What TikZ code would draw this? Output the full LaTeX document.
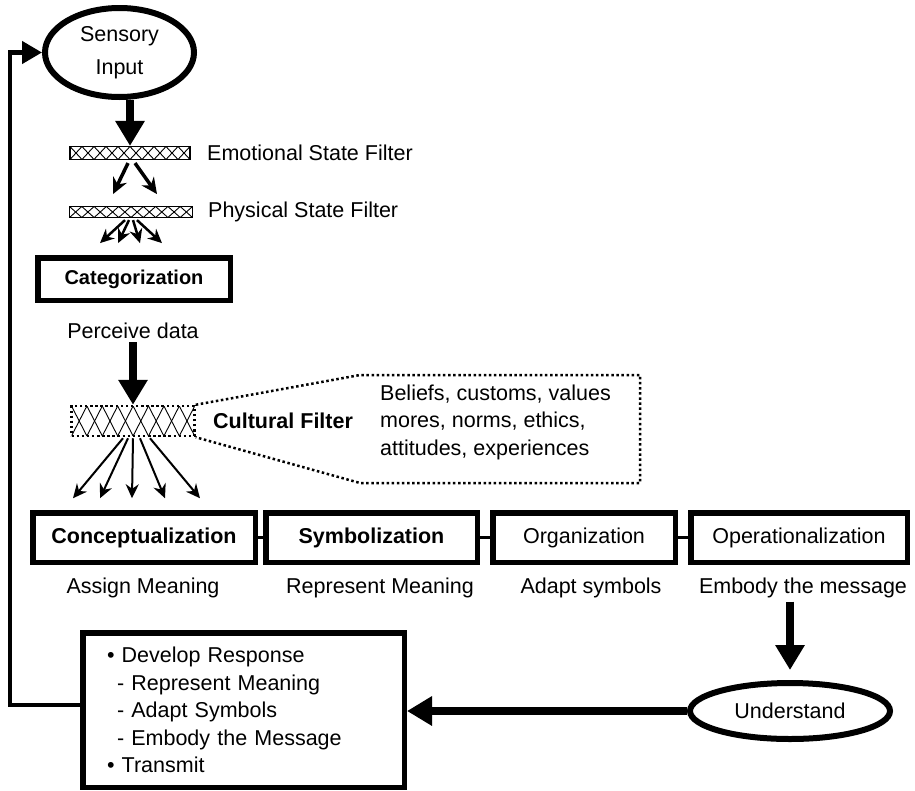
\documentclass[tikz,border=0pt]{standalone}
\usepackage{fontspec}
\setmainfont{Liberation Sans}
\usetikzlibrary{arrows.meta,positioning,shapes.geometric}

\tikzset{
	stagebox/.style={draw, line width=5.5pt, minimum height=49.5pt, inner sep=0pt},
	oval/.style={draw, ellipse, line width=6pt, inner sep=0pt},
	hatchbar/.style 2 args={draw, line width=1.2pt, inner sep=0pt,
		path picture={
			\foreach \k in {0,...,14}{
				\draw[solid, line width=0.9pt] ([xshift=\k*#1]path picture bounding box.north west) -- ++(#1pt,-#2pt);
				\draw[solid, line width=0.9pt] ([xshift=(\k+1)*#1]path picture bounding box.north west) -- ++(-#1pt,-#2pt);
			}}},
	dotline/.style={line width=2.5pt, dash pattern=on 2.5pt off 2.6pt},
	bigarrow/.style={line width=8pt, -{Triangle[length=25pt,width=28pt]}},
	smallarrow/.style={line width=2.5pt, -{Stealth[length=14pt,width=13pt]}},
	feedback/.style={line width=4.5pt, -{Triangle[length=20pt,width=22pt]}}
}

\begin{document}
\begin{tikzpicture}[x=1pt, y=-1pt, font=\fontsize{21.5pt}{27.5pt}\selectfont]
	\useasboundingbox (0,0) rectangle (915,790);

	\node [oval, minimum width=149pt, minimum height=89pt, align=center] (sensory) at (119.5,52.5) {Sensory\\[5pt]Input};

	\node [hatchbar={12}{13}, minimum width=120pt, minimum height=13pt] (emofilter) at (130,153) {};
	\node [anchor=west, inner sep=0pt] (emolabel) at (207,153) {Emotional State Filter};
	\node [hatchbar={12.3}{11}, minimum width=123pt, minimum height=11pt] (physfilter) at (131,212) {};
	\node [anchor=west, inner sep=0pt] (physlabel) at (208,212) {Physical State Filter};

	\node [stagebox, minimum width=192.5pt, minimum height=42.5pt, font=\fontsize{20pt}{24pt}\selectfont\bfseries] (categ) at (134,279) {Categorization};
	\node (perceive) at (133,331) {Perceive data};

	\node [hatchbar={15.4}{30}, dotline, minimum width=123pt, minimum height=30pt] (culfilter) at (133,421) {};
	\node [anchor=west, inner sep=0pt, font=\fontsize{21.5pt}{27.5pt}\selectfont\bfseries] (cullabel) at (213,421) {Cultural Filter};
	\node [anchor=west, inner sep=0pt, align=left] (culbox) at (380,422) {Beliefs, customs, values\\mores, norms, ethics,\\attitudes, experiences};
	\draw [dotline] (culfilter.north east) -- (360,375) -- (640,375) -- (640,483) -- (360,483) -- (culfilter.south east);

	\node [stagebox, minimum width=222.5pt, font=\fontsize{21.5pt}{27.5pt}\selectfont\bfseries] (concept) at (144,537.5) {Conceptualization};
	\node [stagebox, minimum width=211.5pt, font=\fontsize{21.5pt}{27.5pt}\selectfont\bfseries] (symbol) at (371.5,537.5) {Symbolization};
	\node [stagebox, minimum width=182.5pt] (organ) at (584,537.5) {Organization};
	\node [stagebox, minimum width=216.5pt] (oper) at (799,537.5) {Operationalization};
	\node (assign) at (143,588) {Assign Meaning};
	\node (represent) at (380,588) {Represent Meaning};
	\node (adapt) at (591,588) {Adapt symbols};
	\node (embody) at (803,588) {Embody the message};

	\node [oval, minimum width=200pt, minimum height=56pt] (understand) at (790,711) {Understand};
	\node [draw, line width=5.5pt, minimum width=321.5pt, minimum height=154.5pt, text width=273pt, align=left, inner sep=0pt] (develop) at (243.5,710)
		{\textbullet\ Develop Response\\\hspace*{10pt}- Represent Meaning\\\hspace*{10pt}- Adapt Symbols\\\hspace*{10pt}- Embody the Message\\\textbullet\ Transmit};

	\draw [bigarrow] (emofilter.north |- sensory.south) -- (emofilter.north);
	\draw [smallarrow, line width=3.5pt, -{Stealth[length=16pt,width=15pt]}] ([xshift=-2pt,yshift=-3pt]emofilter.south) -- ++(-15,31);
	\draw [smallarrow, line width=3.5pt, -{Stealth[length=16pt,width=15pt]}] ([xshift=5pt,yshift=-3pt]emofilter.south) -- ++(22,31);
	\foreach \sx/\dx in {-6/-25, -2/-11, 2/7, 6/25}
		\draw [smallarrow, line width=2.5pt] ([xshift=\sx pt,yshift=-2pt]physfilter.south) -- ++(\dx,23);
	\draw [bigarrow] (perceive.south) -- (culfilter.north);
	\foreach \sx/\dx in {-10/-50, -5/-28, 0/-1, 7/25, 17/50}
		\draw [smallarrow, line width=2pt] ([xshift=\sx pt,yshift=-1pt]culfilter.south) -- ++(\dx,60);

	\draw [line width=3pt] (concept.east) -- (symbol.west);
	\draw [line width=3pt] (symbol.east) -- (organ.west);
	\draw [line width=3pt] (organ.east) -- (oper.west);

	\draw [bigarrow, shorten >=10pt] (understand.north |- embody.south) -- (understand.north);
	\draw [bigarrow] (understand.west) -- (understand.west -| develop.east);
	\draw [feedback] ([yshift=5pt]develop.west) -- ++(-70,0) |- (sensory.west);
\end{tikzpicture}
\end{document}
